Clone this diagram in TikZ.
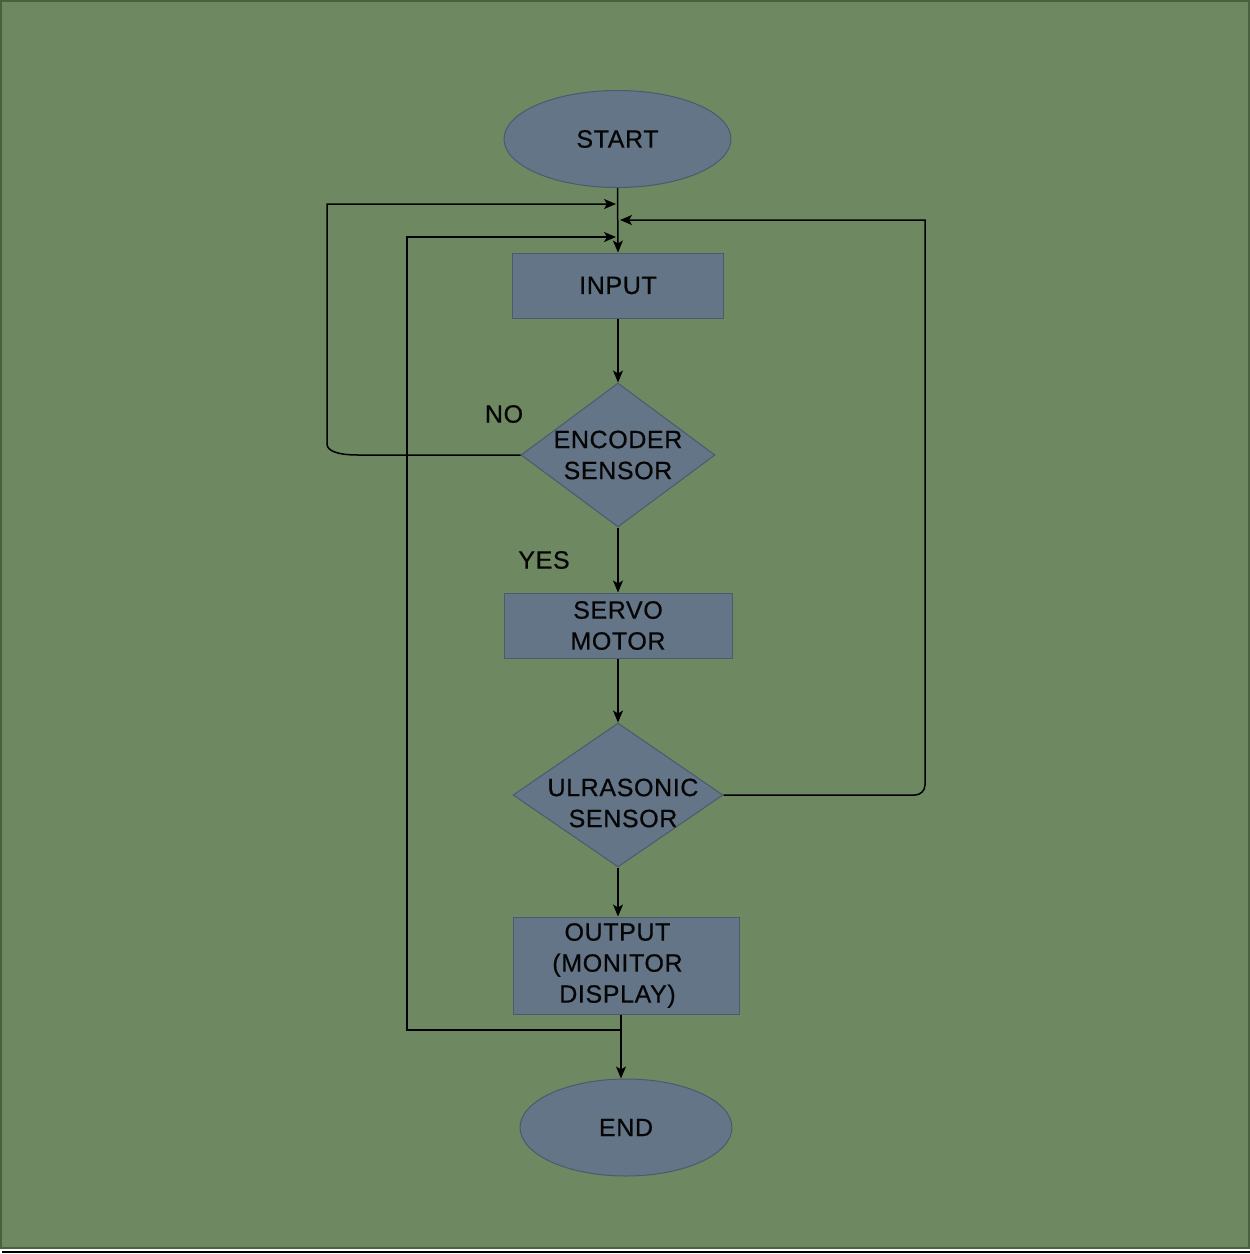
\documentclass[tikz,border=0pt]{standalone}
\usepackage{fontspec}
\setmainfont{Liberation Sans}
\newfontfamily\chartfont{Liberation Sans}[FakeBold=0.6, LetterSpace=2.5]
\usetikzlibrary{shapes.geometric,arrows.meta}
\definecolor{bg}{HTML}{6E8862}
\definecolor{bgedge}{HTML}{4A6140}
\definecolor{nodefill}{HTML}{647587}
\definecolor{nodeedge}{HTML}{4A5B70}
\definecolor{ink}{HTML}{050505}
\begin{document}
\begin{tikzpicture}[x=1pt,y=-1pt,
  every node/.style={font=\chartfont\fontsize{25}{31}\selectfont, text=ink},
  shapebox/.style={draw=nodeedge, fill=nodefill, line width=1pt, inner sep=0pt},
  term/.style={shapebox, ellipse},
  procbox/.style={shapebox, rectangle, align=center},
  decision/.style={shapebox, diamond},
  flow/.style={draw=black, line width=1.5pt, -{Stealth[length=12pt,width=10pt,inset=3pt]}},
  tag/.style={inner sep=0pt}]
\useasboundingbox (0,0) rectangle (1250,1254);
\fill[white] (0,0) rectangle (1250,1254);
\path[fill=bg, draw=bgedge, line width=2pt] (1,1) rectangle (1249,1248);
\fill[black] (2,1251) rectangle (1250,1253);

% nodes
\node[term, minimum width=227pt, minimum height=97pt] (start) at (617.5,139) {START};
\node[procbox, minimum width=211pt, minimum height=65pt] (input) at (618,285.5) {INPUT};
\node[decision, minimum width=194pt, minimum height=144pt,
      label={[align=center]center:ENCODER\\SENSOR}] (enc) at (618,455) {};
\node[procbox, minimum width=228pt, minimum height=65pt] (servo) at (618,625.5) {SERVO\\MOTOR};
\node[decision, minimum width=210pt, minimum height=144pt,
      label={[align=center,xshift=5pt,yshift=-8pt]center:ULRASONIC\\SENSOR}] (uls) at (618,795) {};
\node[procbox, minimum width=226pt, minimum height=97pt,
      label={[align=center,xshift=-8.5pt]center:OUTPUT\\(MONITOR\\DISPLAY)}] (output) at (626,965.5) {};
\node[term, minimum width=212pt, minimum height=97pt] (end) at (626,1127.5) {END};

\node[tag] (nolbl) at (504,414) {NO};
\node[tag] (yeslbl) at (544,560) {YES};

% junction coordinates on the main line
\coordinate (j1) at (616,204);
\coordinate (j2) at (620,220);
\coordinate (j3) at (616,237);
\coordinate (outtap) at (621,1030);

% main flow
\draw[flow] (start.south) -- (input.north);
\draw[flow] (input.south) -- (enc.north);
\draw[flow] (enc.south) -- (servo.north);
\draw[flow] (servo.south) -- (uls.north);
\draw[flow] (uls.south) -- (output.north -| uls.south);
\draw[flow] ([xshift=-5pt]output.south) -- ([xshift=-5pt]end.north);

% loops
\draw[flow] (enc.west) -- (358,455) .. controls (338,455) and (327,451) .. (327,444) -- (327,204) -- (j1);
\draw[flow] (uls.east) -- (915,795) .. controls (920.5,795) and (925,790.5) .. (925,785) -- (925,220) -- (j2);
\draw[flow] (outtap) -- (407,1030) -- (407,237) -- (j3);
\end{tikzpicture}
\end{document}
